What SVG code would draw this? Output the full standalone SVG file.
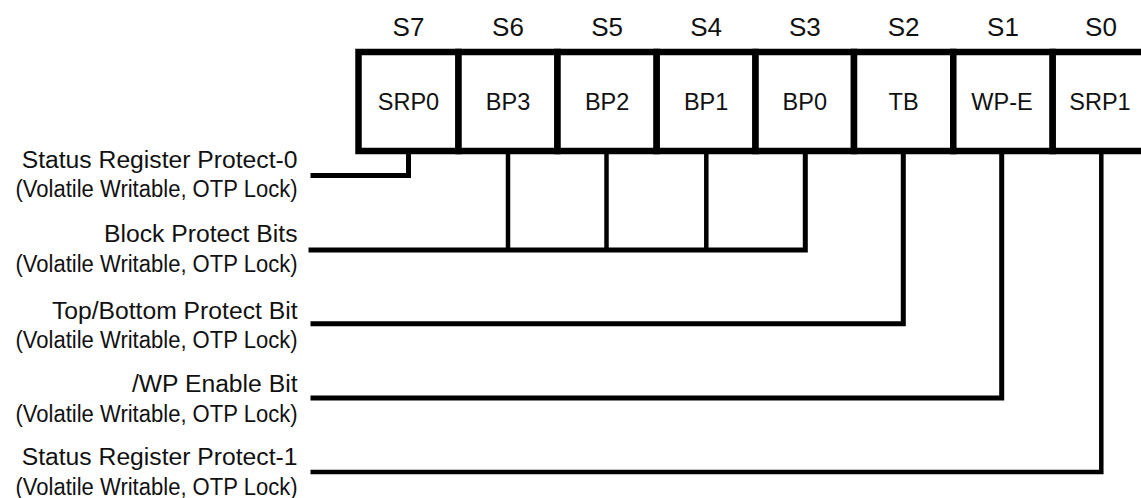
<svg xmlns="http://www.w3.org/2000/svg" width="1141" height="498" viewBox="0 0 1141 498">
<style>
  .cell { fill: #fff; stroke: #000; stroke-width: 6.5; }
  .bit { font-family: "Liberation Sans", Arial, sans-serif; font-size: 26px; fill: #111; text-anchor: middle; }
  .name { font-family: "Liberation Sans", Arial, sans-serif; font-size: 23.5px; fill: #111; text-anchor: middle; }
  .lbl { font-family: "Liberation Sans", Arial, sans-serif; font-size: 24.7px; fill: #111; text-anchor: end; }
  .sub { font-family: "Liberation Sans", Arial, sans-serif; font-size: 24.7px; fill: #111; text-anchor: end; }
  .conn { fill: none; stroke: #000; stroke-width: 5; stroke-linejoin: miter; stroke-linecap: butt; }
  .drop { fill: none; stroke: #000; stroke-width: 4.5; }
</style>
<rect width="1141" height="498" fill="#fff"/>

<g id="connectors">
  <path class="conn" d="M310.5 175.5 H408.5 V151"/>
  <path class="conn" d="M308.5 250 H805.3 V151"/>
  <path class="drop" d="M508 151 V250"/>
  <path class="drop" d="M606.5 151 V250"/>
  <path class="drop" d="M706.3 151 V250"/>
  <path class="conn" d="M310.5 323.8 H903.3 V151"/>
  <path class="conn" d="M310.5 398 H1001.7 V151"/>
  <path class="conn" style="stroke-width:4.5" d="M310.5 472 H1101.3 V151"/>
</g>

<g id="bit-S7">
  <rect class="cell" x="358.5" y="52" width="100" height="99"/>
  <text class="bit" x="408.5" y="36">S7</text>
  <text class="name" x="408.5" y="109.5">SRP0</text>
</g>
<g id="bit-S6">
  <rect class="cell" x="458.5" y="52" width="99" height="99"/>
  <text class="bit" x="508" y="36">S6</text>
  <text class="name" x="508" y="109.5">BP3</text>
</g>
<g id="bit-S5">
  <rect class="cell" x="557.5" y="52" width="99.2" height="99"/>
  <text class="bit" x="607.1" y="36">S5</text>
  <text class="name" x="607.1" y="109.5">BP2</text>
</g>
<g id="bit-S4">
  <rect class="cell" x="656.7" y="52" width="98.8" height="99"/>
  <text class="bit" x="706.1" y="36">S4</text>
  <text class="name" x="706.1" y="109.5">BP1</text>
</g>
<g id="bit-S3">
  <rect class="cell" x="755.5" y="52" width="98.5" height="99"/>
  <text class="bit" x="804.8" y="36">S3</text>
  <text class="name" x="804.8" y="109.5">BP0</text>
</g>
<g id="bit-S2">
  <rect class="cell" x="854" y="52" width="99.3" height="99"/>
  <text class="bit" x="903.6" y="36">S2</text>
  <text class="name" x="903.6" y="109.5">TB</text>
</g>
<g id="bit-S1">
  <rect class="cell" x="953.3" y="52" width="99.4" height="99"/>
  <text class="bit" x="1003" y="36">S1</text>
  <text class="name" x="1002" y="109.5">WP-E</text>
</g>
<g id="bit-S0">
  <rect class="cell" x="1052.7" y="52" width="99.3" height="99"/>
  <text class="bit" x="1101" y="36">S0</text>
  <text class="name" x="1100" y="109.5">SRP1</text>
</g>

<g id="label-srp0">
  <text class="lbl" x="297.5" y="168">Status Register Protect-0</text>
  <text class="sub" x="297.5" y="197" textLength="282" lengthAdjust="spacingAndGlyphs">(Volatile Writable, OTP Lock)</text>
</g>
<g id="label-bp">
  <text class="lbl" x="297.5" y="241.5">Block Protect Bits</text>
  <text class="sub" x="297.5" y="271.5" textLength="282" lengthAdjust="spacingAndGlyphs">(Volatile Writable, OTP Lock)</text>
</g>
<g id="label-tb">
  <text class="lbl" x="297.5" y="318.5">Top/Bottom Protect Bit</text>
  <text class="sub" x="297.5" y="347.5" textLength="282" lengthAdjust="spacingAndGlyphs">(Volatile Writable, OTP Lock)</text>
</g>
<g id="label-wp">
  <text class="lbl" x="297.5" y="391.5">/WP Enable Bit</text>
  <text class="sub" x="297.5" y="422" textLength="282" lengthAdjust="spacingAndGlyphs">(Volatile Writable, OTP Lock)</text>
</g>
<g id="label-srp1">
  <text class="lbl" x="297.5" y="465">Status Register Protect-1</text>
  <text class="sub" x="297.5" y="494.5" textLength="282" lengthAdjust="spacingAndGlyphs">(Volatile Writable, OTP Lock)</text>
</g>
</svg>
